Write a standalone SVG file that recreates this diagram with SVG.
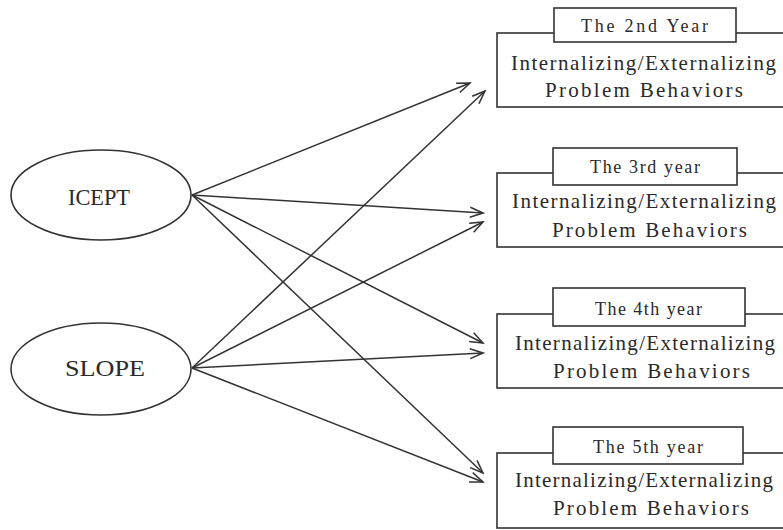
<svg xmlns="http://www.w3.org/2000/svg" width="783" height="530" viewBox="0 0 783 530">
<style>
.bg{fill:#fff}
.ell{fill:#fff;stroke:#333;stroke-width:1.6}
.box{fill:#fff;stroke:#333;stroke-width:1.6}
.lbl{fill:#fff;stroke:#333;stroke-width:1.6}
.conn line{stroke:#333;stroke-width:1.5;marker-end:url(#arr)}
text{font-family:"Liberation Serif","DejaVu Serif",serif;fill:#2a2a2a}
.big{font-size:21px}
.small{font-size:18px}
.lat{font-size:23px}
</style>
<defs>
<marker id="arr" markerUnits="userSpaceOnUse" markerWidth="16" markerHeight="12" viewBox="-14 -6 16 12" refX="0" refY="0" orient="auto">
<path d="M-13,-5 L0,0 L-13,5" fill="none" stroke="#333" stroke-width="1.5"/>
</marker>
</defs>
<rect class="bg" x="0" y="0" width="783" height="530"/>
<g id="connectors" class="conn">
<line x1="192" y1="195" x2="470" y2="83"/>
<line x1="192" y1="195" x2="483" y2="213"/>
<line x1="192" y1="195" x2="483" y2="343"/>
<line x1="192" y1="195" x2="483" y2="473"/>
<line x1="192" y1="368" x2="485" y2="91"/>
<line x1="192" y1="368" x2="483" y2="222"/>
<line x1="192" y1="368" x2="483" y2="353"/>
<line x1="192" y1="368" x2="483" y2="482"/>
</g>
<g id="icept">
<ellipse class="ell" cx="101" cy="195" rx="90" ry="45"/>
<text class="lat" x="68" y="205" textLength="62" lengthAdjust="spacingAndGlyphs">ICEPT</text>
</g>
<g id="slope">
<ellipse class="ell" cx="101" cy="369" rx="90" ry="46"/>
<text class="lat" x="65" y="376" textLength="80" lengthAdjust="spacingAndGlyphs">SLOPE</text>
</g>
<g id="year2">
<rect class="box" x="497" y="33" width="300" height="74"/>
<rect class="lbl" x="554" y="8" width="182" height="34"/>
<text class="small" x="581" y="32" textLength="127" lengthAdjust="spacing">The 2nd Year</text>
<text class="big" x="511" y="70" textLength="265" lengthAdjust="spacing">Internalizing/Externalizing</text>
<text class="big" x="545" y="97" textLength="198" lengthAdjust="spacing">Problem Behaviors</text>
</g>
<g id="year3">
<rect class="box" x="497" y="173" width="300" height="74"/>
<rect class="lbl" x="553" y="148" width="184" height="37"/>
<text class="small" x="590" y="173" textLength="110" lengthAdjust="spacing">The 3rd year</text>
<text class="big" x="512" y="208" textLength="264" lengthAdjust="spacing">Internalizing/Externalizing</text>
<text class="big" x="552" y="237" textLength="195" lengthAdjust="spacing">Problem Behaviors</text>
</g>
<g id="year4">
<rect class="box" x="497" y="314" width="300" height="74"/>
<rect class="lbl" x="553" y="288" width="192" height="38"/>
<text class="small" x="595" y="315" textLength="107" lengthAdjust="spacing">The 4th year</text>
<text class="big" x="515" y="350" textLength="260" lengthAdjust="spacing">Internalizing/Externalizing</text>
<text class="big" x="553" y="378" textLength="197" lengthAdjust="spacing">Problem Behaviors</text>
</g>
<g id="year5">
<rect class="box" x="497" y="453" width="300" height="75"/>
<rect class="lbl" x="553" y="427" width="190" height="37"/>
<text class="small" x="593" y="453" textLength="110" lengthAdjust="spacing">The 5th year</text>
<text class="big" x="515" y="487" textLength="258" lengthAdjust="spacing">Internalizing/Externalizing</text>
<text class="big" x="553" y="515" textLength="196" lengthAdjust="spacing">Problem Behaviors</text>
</g>
</svg>
